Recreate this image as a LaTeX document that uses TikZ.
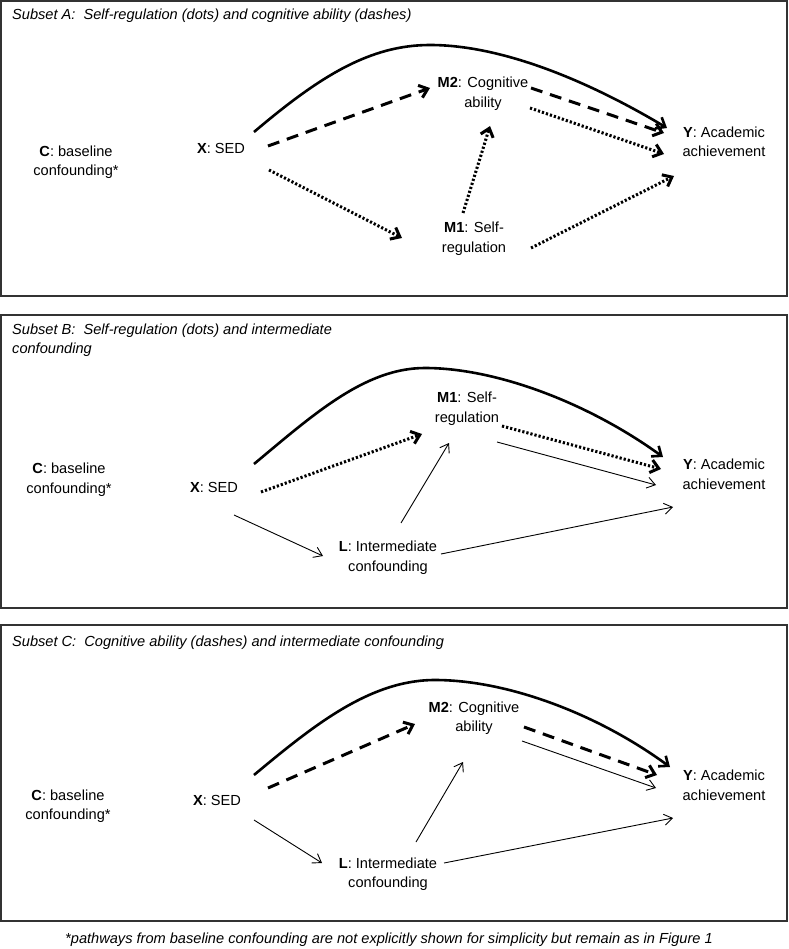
\documentclass[tikz,border=0pt]{standalone}
\usepackage{fontspec}
\setmainfont{Liberation Sans}
\usetikzlibrary{arrows.meta}
\begin{document}
\begin{tikzpicture}[x=1pt,y=-1pt,
  every node/.style={inner sep=0pt,align=center,font=\fontsize{14.6}{19.5}\selectfont},
  ttl/.style={anchor=base west,align=left,font=\fontsize{14.6}{19.5}\selectfont\itshape},
  panel/.style={draw=black!80,line width=1.2pt},
  curveline/.style={line width=2.6pt,-{Straight Barb[length=8pt,width=13pt]}},
  dashline/.style={line width=3pt,dash pattern=on 12pt off 8pt,-{Straight Barb[length=8pt,width=13pt]}},
  dotline/.style={line width=3pt,dash pattern=on 2.2pt off 2pt,-{Straight Barb[length=8pt,width=13pt]}},
  thinline/.style={line width=0.9pt,-{Straight Barb[length=8pt,width=11pt]}}]
\useasboundingbox (0,0) rectangle (788,949);
\fill[white] (0,0) rectangle (788,949);
% panels
\draw[panel] (1,1) rectangle (787,296);
\draw[panel] (1,315) rectangle (787,608);
\draw[panel] (1,625) rectangle (787,921);
% titles
\node[ttl] (TA) at (12,20) {Subset A:\ \ Self-regulation (dots) and cognitive ability (dashes)};
\node[ttl] (TB1) at (12,334) {Subset B:\ \ Self-regulation (dots) and intermediate};
\node[ttl] (TB2) at (12,353) {confounding};
\node[ttl] (TC) at (12,646) {Subset C:\ \ Cognitive ability (dashes) and intermediate confounding};
\node[font=\fontsize{14.6}{19.5}\selectfont\itshape] (FN) at (389,940) {*pathways from baseline confounding are not explicitly shown for simplicity but remain as in Figure 1};

% ---------- Panel A ----------
\node (CA) at (76,162) {\textbf{C}: baseline\\confounding*};
\node (XA) at (221,148) {\textbf{X}: SED};
\node (M2A) at (483,93.5) {\textbf{M2}: Cognitive\\ability};
\node (M1A) at (474,238.5) {\textbf{M1}: Self-\\regulation};
\node (YA) at (724,142) {\textbf{Y}: Academic\\achievement};
\draw[curveline] ([shift={(33,-16)}]XA.center) .. controls (320,76) and (370,45) .. (430,45) .. controls (500,45) and (585,79) .. ([shift={(-57,-14)}]YA.center);
\draw[dashline] ([shift={(47,-2)}]XA.center) -- ([shift={(-53,-5.5)}]M2A.center);
\draw[dashline] ([shift={(48,-5.5)}]M2A.center) -- ([shift={(-60,-9)}]YA.center);
\draw[dotline] ([shift={(47,14.5)}]M2A.center) -- ([shift={(-60,12)}]YA.center);
\draw[dotline] ([shift={(48,22)}]XA.center) -- ([shift={(-72,-0.5)}]M1A.center);
\draw[dotline] ([shift={(-11,-25.5)}]M1A.center) -- ([shift={(7,32.5)}]M2A.center);
\draw[dotline] ([shift={(57,9.5)}]M1A.center) -- ([shift={(-50,34)}]YA.center);

% ---------- Panel B ----------
\node (CB) at (69,479.5) {\textbf{C}: baseline\\confounding*};
\node (XB) at (214,487) {\textbf{X}: SED};
\node (M1B) at (467,408.5) {\textbf{M1}: Self-\\regulation};
\node (YB) at (724,474.5) {\textbf{Y}: Academic\\achievement};
\node (LB) at (388,557.5) {\textbf{L}: Intermediate\\confounding};
\draw[curveline] ([shift={(40,-23)}]XB.center) .. controls (314,414) and (365,368) .. (425,368) .. controls (495,368) and (587,402) .. ([shift={(-61,-17.5)}]YB.center);
\draw[dotline] ([shift={(47,5)}]XB.center) -- ([shift={(-45,25.5)}]M1B.center);
\draw[dotline] ([shift={(35,17.5)}]M1B.center) -- ([shift={(-63,-5.5)}]YB.center);
\draw[thinline] ([shift={(30,33.5)}]M1B.center) -- ([shift={(-68,10.5)}]YB.center);
\draw[thinline] ([shift={(20,28)}]XB.center) -- ([shift={(-65,-1.5)}]LB.center);
\draw[thinline] ([shift={(13,-34.5)}]LB.center) -- ([shift={(-18,34.5)}]M1B.center);
\draw[thinline] ([shift={(53,-3.5)}]LB.center) -- ([shift={(-51,32.5)}]YB.center);

% ---------- Panel C ----------
\node (CC) at (68,806) {\textbf{C}: baseline\\confounding*};
\node (XC) at (217,800) {\textbf{X}: SED};
\node (M2C) at (474,718) {\textbf{M2}: Cognitive\\ability};
\node (YC) at (724,785.5) {\textbf{Y}: Academic\\achievement};
\node (LC) at (388,874) {\textbf{L}: Intermediate\\confounding};
\draw[curveline] ([shift={(37,-25)}]XC.center) .. controls (314,725) and (370,680) .. (435,680) .. controls (505,680) and (595,712) .. ([shift={(-54,-18.5)}]YC.center);
\draw[dashline] ([shift={(51,-12)}]XC.center) -- ([shift={(-59,6)}]M2C.center);
\draw[dashline] ([shift={(50,9)}]M2C.center) -- ([shift={(-67,-10.5)}]YC.center);
\draw[thinline] ([shift={(48,23)}]M2C.center) -- ([shift={(-68,2.5)}]YC.center);
\draw[thinline] ([shift={(37,20)}]XC.center) -- ([shift={(-66,-11)}]LC.center);
\draw[thinline] ([shift={(28,-32)}]LC.center) -- ([shift={(-11,44)}]M2C.center);
\draw[thinline] ([shift={(56,-11)}]LC.center) -- ([shift={(-51,32.5)}]YC.center);
\end{tikzpicture}
\end{document}
